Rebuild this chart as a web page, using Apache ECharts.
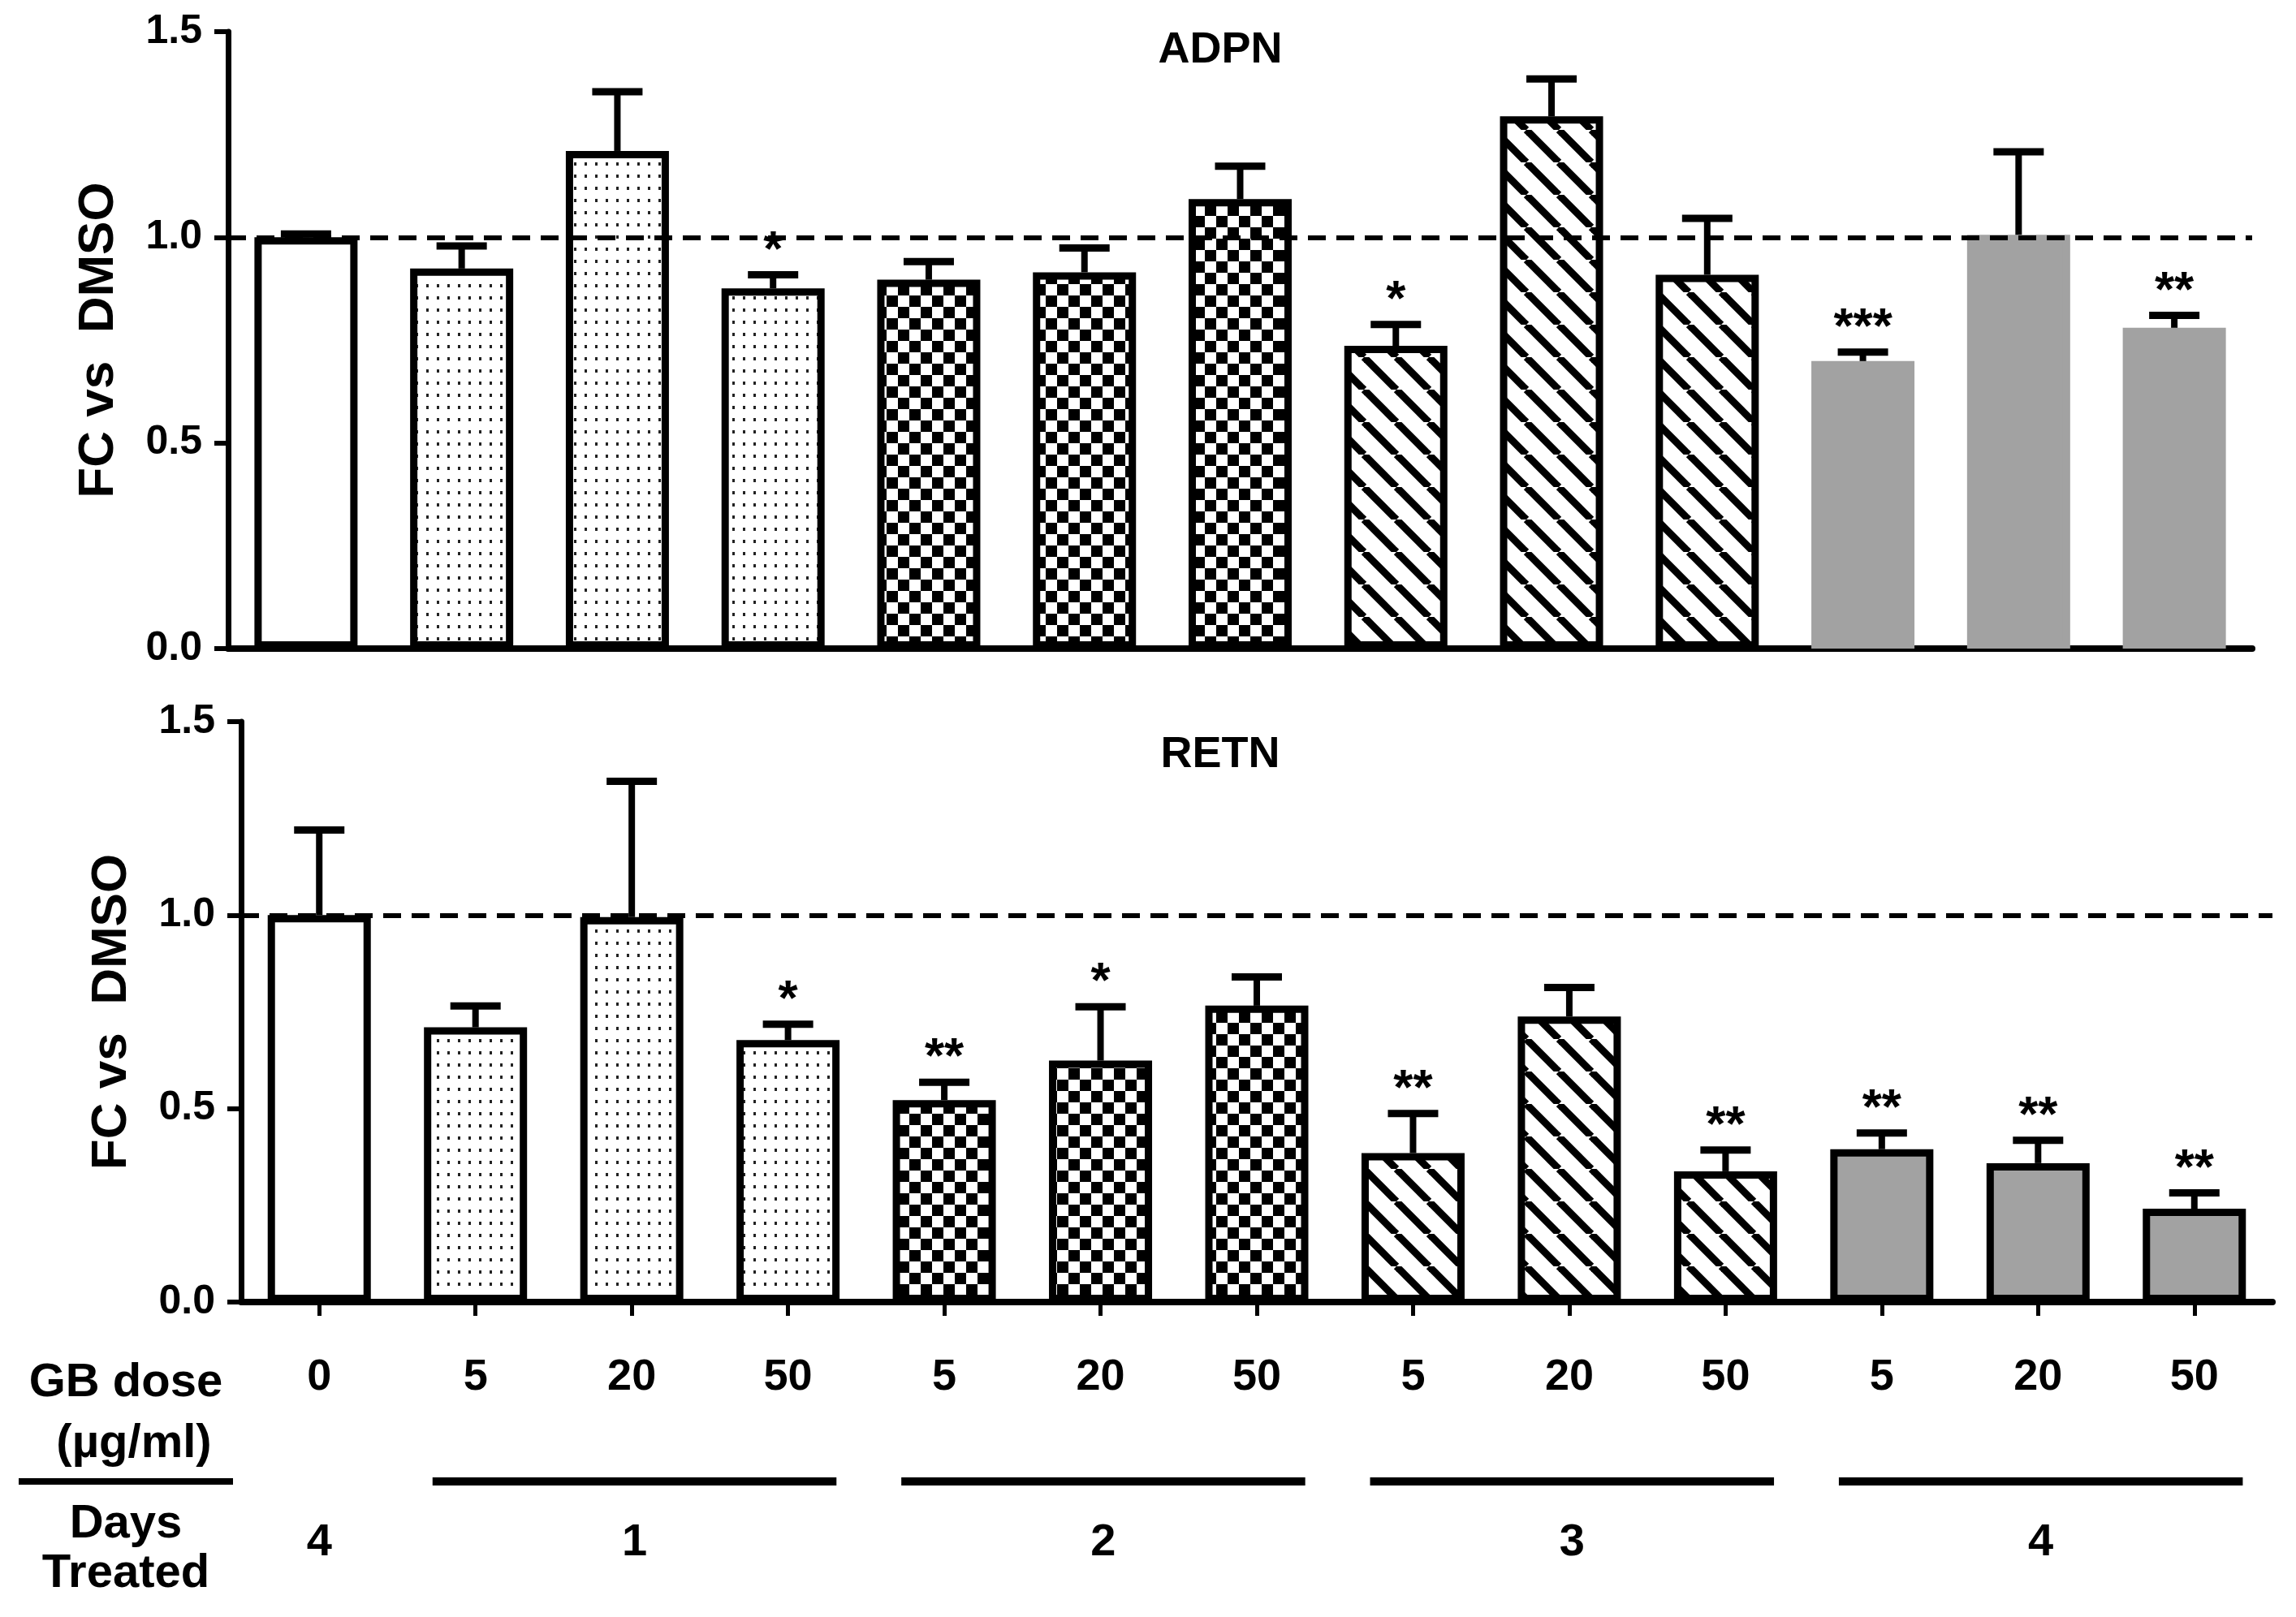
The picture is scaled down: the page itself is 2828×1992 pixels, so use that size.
<!DOCTYPE html>
<html>
<head>
<meta charset="utf-8">
<title>ADPN / RETN</title>
<script src="https://cdn.jsdelivr.net/npm/echarts@6/dist/echarts.min.js"></script>
<style>
  html, body { margin: 0; padding: 0; background: #fff; }
  #chart { width: 2828px; height: 1992px; }
</style>
</head>
<body>
<div id="chart"></div>
<script>
// GB dose (ug/ml) for each bar
const doses = ["0", "5", "20", "50", "5", "20", "50", "5", "20", "50", "5", "20", "50"];

// days treated groups (first / last bar index of each group)
const dayLabels = ["4", "1", "2", "3", "4"];
const dayStart = [0, 1, 4, 7, 10];
const dayEnd = [0, 3, 6, 9, 12];

// ADPN, fold change vs DMSO (mean, upper SEM)
const adpnMean = [1.0, 0.924, 1.21, 0.876, 0.897, 0.915, 1.093, 0.736, 1.294, 0.909, 0.699, 1.006, 0.78];
const adpnErr = [0.008, 0.055, 0.144, 0.033, 0.044, 0.059, 0.08, 0.052, 0.091, 0.137, 0.022, 0.202, 0.03];
const adpnSig = ["", "", "", "*", "", "", "", "*", "", "", "***", "", "**"];

// RETN, fold change vs DMSO (mean, upper SEM)
const retnMean = [1.0, 0.71, 0.995, 0.677, 0.522, 0.624, 0.766, 0.385, 0.738, 0.338, 0.395, 0.359, 0.241];
const retnErr = [0.22, 0.055, 0.351, 0.041, 0.046, 0.139, 0.074, 0.102, 0.075, 0.055, 0.042, 0.059, 0.041];
const retnSig = ["", "", "", "*", "**", "*", "", "**", "", "**", "**", "**", "**"];

const FONT = '"Liberation Sans", Arial, sans-serif';

function makeTile(w, h, draw) {
  const c = document.createElement("canvas");
  c.width = w;
  c.height = h;
  const ctx = c.getContext("2d");
  ctx.fillStyle = "#fff";
  ctx.fillRect(0, 0, w, h);
  draw(ctx);
  return { image: c, repeat: "repeat" };
}

const dotFill = makeTile(13, 15, (ctx) => {
  ctx.fillStyle = "#222";
  ctx.fillRect(5, 5, 3, 4);
});

const checkFill = makeTile(28, 28, (ctx) => {
  ctx.fillStyle = "#000";
  ctx.fillRect(0, 0, 14, 14);
  ctx.fillRect(14, 14, 14, 14);
});

const hatchFill = makeTile(40, 40, (ctx) => {
  ctx.strokeStyle = "#000";
  ctx.lineWidth = 9;
  for (let k = -1; k <= 1; k++) {
    ctx.beginPath();
    ctx.moveTo(k * 40, 0);
    ctx.lineTo(k * 40 + 40, 40);
    ctx.stroke();
  }
});

const GREY = "#a2a2a2";
const groupFills = ["#fff", dotFill, checkFill, hatchFill, GREY];

function groupOf(i) {
  for (let g = 0; g < dayStart.length; g++) {
    if (i >= dayStart[g] && i <= dayEnd[g]) return g;
  }
  return 0;
}

function barStyle(i, greyBorder) {
  const g = groupOf(i);
  return {
    color: groupFills[g],
    borderColor: g === 4 && greyBorder ? GREY : "#000",
    borderWidth: 9,
  };
}

function xAxisFor(gridIndex, showLabels) {
  return {
    type: "category",
    gridIndex: gridIndex,
    data: doses,
    axisLine: { lineStyle: { color: "#000", width: 8 } },
    axisTick: {
      show: showLabels,
      alignWithLabel: true,
      length: 17,
      lineStyle: { color: "#000", width: 5 },
    },
    axisLabel: {
      show: showLabels,
      margin: 66,
      color: "#000",
      fontSize: 54,
      fontWeight: "bold",
      fontFamily: FONT,
    },
    splitLine: { show: false },
  };
}

function yAxisFor(gridIndex) {
  return {
    type: "value",
    gridIndex: gridIndex,
    min: 0,
    max: 1.5,
    interval: 0.5,
    name: "FC vs  DMSO",
    nameLocation: "middle",
    nameGap: 128,
    nameTextStyle: { color: "#000", fontSize: 62, fontWeight: "bold", fontFamily: FONT },
    axisLine: { show: true, lineStyle: { color: "#000", width: 7 } },
    axisTick: { show: true, length: 17, lineStyle: { color: "#000", width: 6 } },
    axisLabel: {
      margin: 32,
      color: "#000",
      fontSize: 50,
      fontWeight: "bold",
      fontFamily: FONT,
      formatter: (v) => v.toFixed(1),
    },
    splitLine: { show: false },
  };
}

function seriesFor(gridIndex, means, errs, sig, greyBorder) {
  const bars = {
    type: "bar",
    xAxisIndex: gridIndex,
    yAxisIndex: gridIndex,
    barWidth: 127,
    data: means.map((v, i) => ({ value: v, itemStyle: barStyle(i, greyBorder) })),
    z: 2,
    markLine: {
      silent: true,
      symbol: "none",
      label: { show: false },
      lineStyle: { color: "#000", type: [22, 13], width: 6 },
      data: [{ yAxis: 1 }],
      z: 6,
    },
  };

  const errorBars = {
    type: "custom",
    xAxisIndex: gridIndex,
    yAxisIndex: gridIndex,
    z: 4,
    encode: { x: 0, y: 1 },
    data: means.map((v, i) => [i, v, errs[i]]),
    renderItem(params, api) {
      const i = api.value(0);
      const mean = api.value(1);
      const base = api.coord([i, mean]);
      const top = api.coord([i, mean + api.value(2)]);
      const children = [
        {
          type: "line",
          shape: { x1: base[0], y1: base[1], x2: top[0], y2: top[1] },
          style: { stroke: "#000", lineWidth: 8 },
        },
        {
          type: "line",
          shape: { x1: top[0] - 31, y1: top[1], x2: top[0] + 31, y2: top[1] },
          style: { stroke: "#000", lineWidth: 9 },
        },
      ];
      const s = sig[params.dataIndex];
      if (s) {
        children.push({
          type: "text",
          style: {
            text: s,
            x: top[0],
            y: top[1] - 29,
            align: "center",
            verticalAlign: "middle",
            fill: "#000",
            fontSize: 62,
            fontWeight: "bold",
            fontFamily: FONT,
          },
        });
      }
      return { type: "group", children: children };
    },
  };

  return [bars, errorBars];
}

// day groups under the RETN axis: bar across each group and its day number
const daySeries = {
  type: "custom",
  xAxisIndex: 1,
  yAxisIndex: 1,
  z: 4,
  clip: false,
  encode: { x: 0, y: 1 },
  data: dayStart.map((s, g) => [s, 0, dayEnd[g]]),
  renderItem(params, api) {
    const a = api.coord([api.value(0), 0]);
    const b = api.coord([api.value(2), 0]);
    const band = api.size([1, 0])[0];
    const axisY = a[1];
    const children = [];
    let cx = (a[0] + b[0]) / 2;
    if (api.value(2) > api.value(0)) {
      const x1 = a[0] - 0.275 * band;
      const x2 = b[0] + 0.31 * band;
      cx = (x1 + x2) / 2;
      children.push({
        type: "line",
        shape: { x1: x1, y1: axisY + 221, x2: x2, y2: axisY + 221 },
        style: { stroke: "#000", lineWidth: 10 },
      });
    }
    children.push({
      type: "text",
      style: {
        text: dayLabels[params.dataIndex],
        x: cx,
        y: axisY + 297,
        align: "center",
        verticalAlign: "middle",
        fill: "#000",
        fontSize: 56,
        fontWeight: "bold",
        fontFamily: FONT,
      },
    });
    return { type: "group", children: children };
  },
};

function headerText(text, x, y, size) {
  return {
    type: "text",
    x: x,
    y: y,
    style: {
      text: text,
      align: "center",
      verticalAlign: "middle",
      fill: "#000",
      fontSize: size,
      fontWeight: "bold",
      fontFamily: FONT,
    },
  };
}

const chart = echarts.init(document.getElementById("chart"), null, { width: 2828, height: 1992 });

chart.setOption({
  backgroundColor: "#fff",
  animation: false,
  grid: [
    { left: 281, top: 39, width: 2493, height: 760 },
    { left: 297, top: 889, width: 2502, height: 715 },
  ],
  xAxis: [xAxisFor(0, false), xAxisFor(1, true)],
  yAxis: [yAxisFor(0), yAxisFor(1)],
  series: [
    ...seriesFor(0, adpnMean, adpnErr, adpnSig, true),
    ...seriesFor(1, retnMean, retnErr, retnSig, false),
    daySeries,
  ],
  graphic: [
    headerText("ADPN", 1503, 62, 54),
    headerText("RETN", 1503, 930, 54),
    headerText("GB dose", 155, 1704, 58),
    headerText("(\u00b5g/ml)", 165, 1779, 58),
    {
      type: "line",
      shape: { x1: 23, y1: 1825, x2: 287, y2: 1825 },
      style: { stroke: "#000", lineWidth: 8 },
    },
    headerText("Days", 155, 1878, 58),
    headerText("Treated", 155, 1939, 58),
  ],
});
</script>
</body>
</html>
